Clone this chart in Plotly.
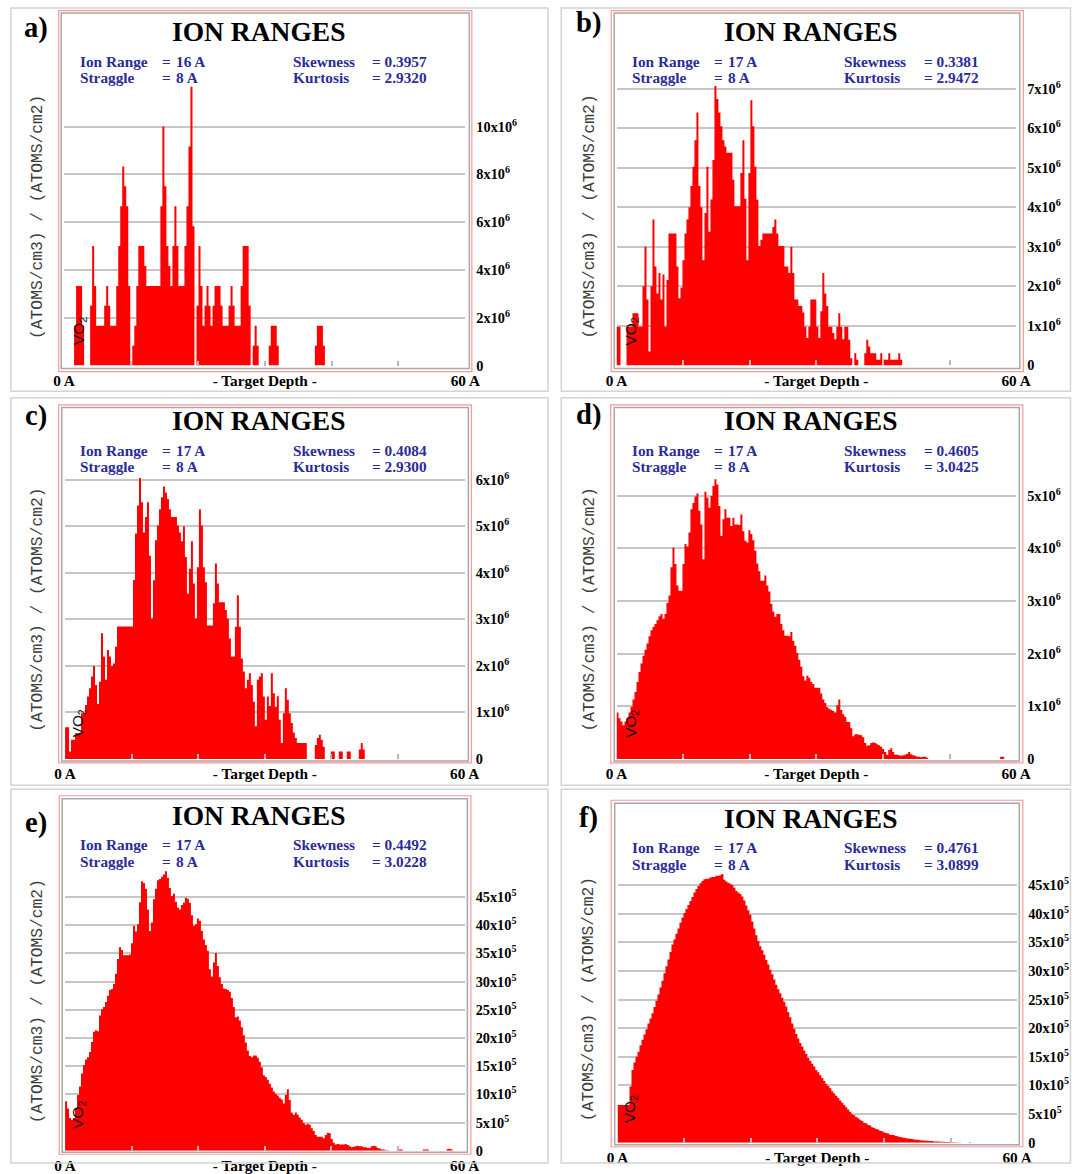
import plotly.graph_objects as go

W, H = 1086, 1174
STEP = 0.3  # depth bin width in Angstrom

# ---- range distributions, one value per 0.3 A depth bin ----
# a) values in 1e6 (atoms/cm3)/(atoms/cm2)
A_E6 = [
    0, 0, 0, 0, 0, 1.67, 3.33, 3.33, 3.33, 1.67,
    0, 0, 0, 2.50, 5.00, 3.33, 1.67, 1.67, 1.67, 1.67,
    2.50, 3.33, 2.50, 1.67, 1.67, 1.67, 3.33, 5.00, 6.67, 8.33,
    7.50, 6.67, 3.33, 0, 0.83, 1.67, 3.33, 5.00, 5.00, 5.00,
    4.17, 3.33, 3.33, 3.33, 3.33, 3.33, 3.33, 3.33, 6.67, 10.00,
    7.50, 5.00, 4.17, 3.33, 5.00, 6.67, 5.00, 3.33, 3.33, 3.33,
    5.00, 6.67, 9.17, 11.67, 5.83, 0, 2.50, 5.00, 3.33, 1.67,
    2.50, 3.33, 2.50, 1.67, 2.50, 3.33, 3.33, 3.33, 2.50, 1.67,
    1.67, 1.67, 2.50, 3.33, 2.50, 1.67, 1.67, 1.67, 3.33, 5.00,
    5.00, 5.00, 2.50, 0, 0.83, 1.67, 0.83, 0, 0, 0,
    0, 0, 0.83, 1.67, 1.67, 1.67, 0.83, 0, 0, 0,
    0, 0, 0, 0, 0, 0, 0, 0, 0, 0,
    0, 0, 0, 0, 0, 0.83, 1.67, 1.67, 1.67, 0.83,
]
# b) values in 1e6
B_E6 = [
    0.98, 0.98, 0, 0, 0, 0.98, 0.98, 0.98, 1.32, 1.32,
    1.32, 0.98, 0.98, 2.00, 3.00, 1.67, 0.35, 2.00, 3.69, 2.50,
    1.82, 2.34, 1.67, 2.30, 0.98, 2.16, 3.34, 3.34, 3.34, 3.34,
    2.50, 1.70, 1.97, 2.66, 3.34, 3.69, 4.00, 4.54, 5.03, 5.70,
    6.40, 4.54, 4.00, 2.66, 3.86, 5.03, 3.38, 4.20, 5.20, 7.07,
    6.74, 6.40, 6.05, 5.70, 5.54, 5.38, 5.38, 5.38, 4.70, 4.03,
    4.03, 4.03, 4.87, 5.70, 4.22, 2.66, 4.87, 6.71, 6.05, 5.03,
    4.19, 3.02, 3.18, 3.34, 3.34, 3.34, 3.34, 3.34, 3.50, 3.69,
    3.34, 3.02, 3.02, 3.02, 2.50, 2.50, 2.34, 3.00, 2.34, 1.67,
    1.67, 1.50, 1.50, 1.34, 0.98, 0.69, 0.98, 1.67, 1.67, 1.67,
    0.98, 0.69, 1.37, 2.34, 1.82, 1.50, 0.98, 0.98, 0.82, 0.66,
    0.98, 1.32, 0.98, 0.66, 0.98, 0.98, 0.65, 0.18, 0, 0.31,
    0.14, 0, 0, 0, 0.31, 0.65, 0.48, 0.31, 0.31, 0.31,
    0.14, 0.14, 0.31, 0.14, 0.14, 0.14, 0.31, 0.14, 0.14, 0.14,
    0.14, 0.31, 0.14,
]
# c) values in 1e6
C_E6 = [
    0.68, 0.68, 0.16, 0.41, 0.41, 0.55, 0.55, 0.55, 0.98, 0.98,
    1.16, 1.34, 1.52, 1.77, 2.00, 1.59, 1.18, 1.66, 2.70, 2.20,
    1.70, 2.34, 2.20, 2.00, 2.05, 2.41, 2.85, 2.85, 2.85, 2.85,
    2.85, 2.85, 2.85, 2.85, 3.85, 4.85, 5.45, 6.04, 5.52, 4.87,
    5.20, 5.52, 4.37, 3.02, 3.84, 4.70, 5.02, 5.37, 5.63, 5.86,
    5.73, 5.59, 5.37, 5.20, 5.20, 5.20, 5.02, 4.87, 4.68, 5.00,
    4.34, 3.55, 4.09, 4.68, 3.77, 3.02, 4.12, 5.37, 5.02, 4.12,
    3.80, 2.87, 2.87, 2.87, 3.35, 4.20, 3.77, 3.37, 3.37, 3.37,
    3.20, 3.02, 2.59, 2.20, 2.20, 2.84, 3.52, 2.84, 2.16, 1.88,
    1.52, 1.70, 1.84, 1.59, 1.23, 0.70, 1.70, 1.77, 1.84, 1.34,
    0.84, 1.34, 1.14, 1.84, 1.41, 1.12, 1.35, 0.84, 0.34, 0.98,
    1.52, 1.27, 0.98, 0.77, 0.57, 0.45, 0.34, 0.34, 0.34, 0.34,
    0.34, 0, 0, 0, 0, 0.30, 0.45, 0.52, 0.41, 0.26,
    0, 0, 0, 0.16, 0.16, 0, 0, 0.16, 0.16, 0,
    0, 0.16, 0.16, 0, 0, 0, 0, 0.20, 0.34, 0.20,
]
# d) values in 1e5
D_E5 = [
    8.8, 7.7, 7.1, 6.4, 7.1, 7.7, 8.8, 9.9, 11.3, 12.7,
    14.6, 16.5, 18.1, 19.6, 20.7, 21.9, 23.3, 24.4, 25.1, 25.6,
    26.3, 27.1, 27.5, 26.6, 27.5, 29.6, 31.0, 36.4, 40.1, 37.0,
    32.9, 31.9, 31.9, 37.0, 40.8, 40.3, 43.0, 47.4, 48.6, 49.8,
    50.4, 47.1, 44.5, 37.9, 50.7, 49.6, 47.7, 49.9, 51.8, 53.1,
    52.1, 48.0, 42.3, 45.5, 47.4, 45.8, 45.8, 44.2, 45.8, 44.5,
    44.5, 44.4, 46.4, 43.2, 41.4, 41.1, 43.4, 42.7, 41.5, 39.5,
    37.1, 35.6, 33.8, 33.8, 34.8, 32.9, 31.8, 29.4, 28.0, 27.0,
    27.5, 27.5, 25.6, 24.4, 23.4, 23.4, 23.3, 24.1, 22.4, 21.5,
    20.1, 18.8, 17.5, 15.7, 14.9, 15.8, 15.4, 14.6, 14.2, 13.5,
    13.5, 13.5, 12.4, 11.3, 10.6, 9.8, 9.5, 9.3, 9.1, 8.8,
    10.2, 11.3, 9.3, 8.5, 8.0, 7.0, 7.0, 5.8, 4.3, 4.7,
    4.7, 4.6, 4.5, 4.1, 3.0, 2.5, 2.6, 3.0, 3.1, 3.0,
    2.8, 2.6, 2.3, 1.9, 1.3, 0.8, 1.7, 2.0, 1.3, 0.8,
    0.8, 0.7, 0.6, 0.7, 0.8, 1.0, 1.3, 0.9, 0.7, 0.6,
    0.4, 0.4, 0.3, 0.4, 0.4, 0.2, 0, 0, 0, 0,
    0, 0, 0, 0, 0, 0, 0, 0, 0, 0,
    0, 0, 0, 0, 0, 0, 0, 0, 0, 0,
    0, 0, 0, 0, 0, 0, 0, 0, 0, 0,
    0, 0, 0.4, 0.4,
]
# e) values in 1e5
E_E5 = [
    8.8, 7.5, 5.8, 5.5, 5.8, 7.5, 9.9, 11.4, 13.7, 15.2,
    16.2, 16.6, 17.5, 19.3, 21.1, 21.4, 21.2, 24.0, 25.1, 25.5,
    26.4, 27.5, 28.5, 28.7, 29.6, 31.4, 34.0, 36.1, 35.6, 34.7,
    34.7, 34.7, 34.8, 36.8, 39.9, 38.9, 40.2, 44.1, 47.8, 47.5,
    46.5, 42.8, 39.0, 40.5, 44.6, 46.5, 48.0, 48.2, 48.6, 49.0,
    49.6, 48.4, 46.6, 45.2, 45.6, 44.2, 43.1, 42.8, 43.6, 44.0,
    44.9, 44.7, 44.0, 41.8, 39.9, 40.2, 41.2, 40.8, 39.0, 37.5,
    36.5, 35.5, 32.2, 30.9, 33.4, 35.1, 32.8, 30.8, 29.6, 28.8,
    28.7, 28.5, 28.2, 27.1, 25.5, 23.7, 23.8, 23.1, 21.9, 20.5,
    19.2, 17.8, 16.8, 16.6, 16.9, 16.9, 16.5, 15.8, 14.8, 13.4,
    13.1, 12.6, 11.9, 11.2, 10.5, 10.1, 9.8, 9.4, 9.1, 8.4,
    9.9, 10.9, 9.0, 6.8, 6.4, 6.8, 6.4, 5.9, 5.5, 4.9,
    4.6, 4.8, 4.6, 4.0, 3.5, 2.8, 2.5, 2.5, 2.5, 2.2,
    2.8, 3.2, 3.1, 2.1, 1.4, 1.1, 1.2, 1.1, 1.1, 1.1,
    1.2, 1.0, 0.8, 0.6, 0.7, 0.8, 0.9, 0.8, 0.8, 0.6,
    0.6, 0.5, 0.5, 0.8, 0.9, 0.8, 0.5, 0.4, 0.2, 0.2,
    0.1, 0.1, 0, 0, 0, 0, 0.2, 0.2, 0.2, 0,
    0, 0, 0, 0, 0, 0, 0, 0, 0, 0.2,
    0.2, 0.2, 0, 0, 0, 0, 0, 0, 0, 0,
    0, 0.3, 0.35, 0.2,
]
# f) values in 1e5
F_E5 = [
    6.6, 6.6, 6.6, 6.6, 6.6, 6.6, 9.8, 12.7, 14.0, 15.0,
    15.9, 17.0, 18.0, 18.9, 19.8, 20.8, 21.7, 22.6, 23.7, 24.8,
    25.9, 27.1, 28.3, 29.6, 30.8, 32.0, 33.3, 34.6, 35.5, 36.5,
    37.4, 38.4, 39.3, 40.1, 40.8, 41.5, 42.2, 42.9, 43.7, 44.3,
    44.8, 45.3, 45.7, 46.0, 46.1, 46.1, 46.3, 46.4, 46.4, 46.6,
    46.6, 46.7, 46.9, 45.9, 45.6, 45.4, 45.2, 45.0, 44.5, 44.0,
    43.7, 43.4, 43.0, 42.3, 41.4, 40.6, 39.8, 38.6, 37.4, 36.2,
    35.2, 34.3, 33.6, 32.8, 31.9, 31.1, 30.2, 29.4, 28.5, 27.6,
    26.8, 26.1, 25.3, 24.6, 23.8, 22.8, 21.9, 20.8, 19.9, 19.0,
    18.2, 17.4, 16.8, 16.1, 15.5, 14.8, 14.3, 13.8, 13.3, 12.7,
    12.3, 11.8, 11.3, 10.8, 10.3, 9.9, 9.5, 9.0, 8.6, 8.2,
    7.8, 7.4, 7.0, 6.6, 6.2, 5.8, 5.4, 5.0, 4.8, 4.5,
    4.3, 4.0, 3.8, 3.5, 3.4, 3.1, 3.0, 2.7, 2.6, 2.4,
    2.3, 2.1, 2.0, 1.8, 1.7, 1.6, 1.4, 1.4, 1.3, 1.2,
    1.1, 1.0, 0.93, 0.87, 0.81, 0.75, 0.70, 0.64, 0.58, 0.52,
    0.52, 0.46, 0.41, 0.41, 0.35, 0.35, 0.29, 0.29, 0.23, 0.23,
    0.23, 0.17, 0.17, 0.17, 0.15, 0.12, 0.12, 0.10, 0.10, 0.06,
    0.06, 0.05, 0, 0, 0, 0, 0.10,
]

SERIES = [(A_E6, 1e6), (B_E6, 1e6), (C_E6, 1e6), (D_E5, 1e5), (E_E5, 1e5), (F_E5, 1e5)]

LETTERS = ["a)", "b)", "c)", "d)", "e)", "f)"]
ION_RANGE = ["16 A", "17 A", "17 A", "17 A", "17 A", "17 A"]
STRAGGLE = ["8 A", "8 A", "8 A", "8 A", "8 A", "8 A"]
SKEWNESS = ["0.3957", "0.3381", "0.4084", "0.4605", "0.4492", "0.4761"]
KURTOSIS = ["2.9320", "2.9472", "2.9300", "3.0425", "3.0228", "3.0899"]

# right-hand axis ticks: (mantissas, exponent)
Y_TICKS = [
    ([0, 2, 4, 6, 8, 10], 6),
    ([0, 1, 2, 3, 4, 5, 6, 7], 6),
    ([0, 1, 2, 3, 4, 5, 6], 6),
    ([0, 1, 2, 3, 4, 5], 6),
    ([0, 5, 10, 15, 20, 25, 30, 35, 40, 45], 5),
    ([0, 5, 10, 15, 20, 25, 30, 35, 40, 45], 5),
]
Y_MAX = [11.73e6, 7.09e6, 6.05e6, 5.34e6, 5.0e6, 4.71e6]

# ---- layout grid (pixels) ----
PLOT_BOX = [  # x at 0 A, x at 60 A, baseline y, top y
    (63.3, 465.0, 367.5, 86.0),
    (616.3, 1016.3, 367.3, 86.0),
    (64.3, 464.3, 762.5, 480.0),
    (616.3, 1016.3, 762.5, 480.0),
    (64.3, 464.3, 1156.0, 873.0),
    (617.3, 1017.3, 1148.0, 877.0),
]
RED_BOX = [
    (58.0, 11.0, 471.5, 373.5),
    (611.0, 11.0, 1023.5, 373.5),
    (58.0, 407.0, 471.0, 766.5),
    (610.5, 407.0, 1023.0, 766.5),
    (58.5, 799.5, 470.5, 1159.5),
    (611.0, 804.0, 1023.0, 1152.0),
]
GRAY_BOX = [
    (60.5, 13.5, 469.0, 370.5),
    (614.0, 13.5, 1020.0, 370.5),
    (61.0, 409.5, 468.0, 764.5),
    (614.0, 409.5, 1019.5, 764.5),
    (61.5, 802.5, 467.0, 1157.5),
    (614.5, 807.0, 1019.5, 1150.0),
]
CELL_BOX = [
    (9.7, 4.2, 547.7, 393.3),
    (561.0, 4.2, 1080.0, 393.3),
    (9.7, 399.8, 547.7, 788.9),
    (561.0, 399.8, 1080.0, 788.9),
    (9.7, 793.0, 547.7, 1185.0),
    (561.0, 793.0, 1080.0, 1185.0),
]
TEXT_SHIFT = [(0, 0), (552.3, 0), (0, 391), (552.3, 391), (0, 787), (552.3, 790)]
LETTER_POS = [(35, 28), (588, 23), (35, 418), (588, 417), (35, 827), (588, 822)]
VO2_POS = [(78, 333), (631, 333), (78, 727), (631, 727), (78, 1120), (631, 1114)]

# grid pixels -> figure pixels
GX0, GXS = 10.2, 0.977
GY0, GYS = 8.4, 0.988
FS = 1.02  # font scale for the grid transform

SERIF = "Liberation Serif"
NAVY = "#2c2c96"
RED = "#ff0000"


def fx(px):
    return min(max((px - GX0) / GXS / W, 0.0), 0.9995)


def fy(py):
    return min(max(1 - (py - GY0) / GYS / H, 0.0), 1.0)


fig = go.Figure()
shapes = []
annotations = []


def label(x, y, text, size, color="black", family=SERIF, bold=True,
          xanchor="left", angle=0):
    annotations.append(dict(
        x=fx(x), y=fy(y), xref="paper", yref="paper", text=text,
        showarrow=False, xanchor=xanchor, yanchor="middle", textangle=angle,
        font=dict(family=family, size=round(size * FS, 1), color=color,
                  weight="bold" if bold else "normal"),
    ))


def rect(box, color, width):
    x0, y0, x1, y1 = box
    shapes.append(dict(type="rect", xref="paper", yref="paper",
                       x0=fx(x0), y0=fy(y1), x1=fx(x1), y1=fy(y0),
                       line=dict(color=color, width=width),
                       fillcolor="rgba(0,0,0,0)", layer="above"))


for k in range(6):
    values, unit = SERIES[k]
    n = len(values)
    xs = [i * STEP for i in range(n + 1)]
    ys = [v * unit for v in values] + [values[-1] * unit]
    suffix = "" if k == 0 else str(k + 1)
    fig.add_trace(go.Scatter(
        x=xs, y=ys, mode="lines", line=dict(shape="hv", width=0, color=RED),
        fill="tozeroy", fillcolor=RED, xaxis="x" + suffix, yaxis="y" + suffix,
        hoverinfo="skip", showlegend=False,
    ))

    px0, px1, base, top = PLOT_BOX[k]
    mant, exp = Y_TICKS[k]
    tickvals = [m * 10 ** exp for m in mant]
    ticktext = ["0" if m == 0 else f"{m}x10<sup>{exp}</sup>" for m in mant]

    fig.layout["xaxis" + suffix] = dict(
        domain=[fx(px0), fx(px1)], range=[0, 60], anchor="y" + suffix,
        tickmode="array", tickvals=[0, 30, 60],
        ticktext=["0 A", "- Target Depth -", "60 A"], ticks="",
        ticklabelstandoff=4,
        tickfont=dict(family=SERIF, size=15.3, color="black", weight="bold"),
        minor=dict(tickmode="array", tickvals=[10, 20, 30, 40, 50],
                   ticks="inside", ticklen=5, tickwidth=1.5,
                   tickcolor="#b9b9b9", showgrid=False),
        showgrid=False, zeroline=False, showline=False, fixedrange=True,
    )
    fig.layout["yaxis" + suffix] = dict(
        domain=[fy(base), fy(top)], range=[0, Y_MAX[k]], anchor="x" + suffix,
        side="right", tickmode="array", tickvals=tickvals, ticktext=ticktext,
        ticks="", ticklabelstandoff=10,
        tickfont=dict(family=SERIF, size=14.3, color="black", weight="bold"),
        showgrid=True, gridcolor="#c6c6c6", gridwidth=1.5,
        zeroline=False, showline=False, fixedrange=True,
    )

    rect(CELL_BOX[k], "#d4d4d4", 1.5)
    rect(RED_BOX[k], "#f59a9a", 1.2)
    rect(GRAY_BOX[k], "#a8a8a8", 1.5)

    dx, dy = TEXT_SHIFT[k]
    label(258.4 + dx, 32 + dy, "ION RANGES", 27, xanchor="center")
    rows = [("Ion Range", ION_RANGE[k], "Skewness", SKEWNESS[k], 61.9),
            ("Straggle", STRAGGLE[k], "Kurtosis", KURTOSIS[k], 78.2)]
    for name1, val1, name2, val2, yy in rows:
        label(77.2 + dx, yy + dy, name1, 15, NAVY)
        label(159.5 + dx, yy + dy, "=", 15, NAVY)
        label(173.8 + dx, yy + dy, val1, 15, NAVY)
        label(290.2 + dx, yy + dy, name2, 15, NAVY)
        label(369.5 + dx, yy + dy, "= " + val2, 15, NAVY)

    lx, ly = LETTER_POS[k]
    label(lx, ly, LETTERS[k], 28, xanchor="center")

    label(36.7 + dx, (base + top) / 2 - 9, "(ATOMS/cm3) / (ATOMS/cm2)", 16,
          "#3c3c3c", family="Liberation Mono", bold=False, xanchor="center",
          angle=-90)
    vx, vy = VO2_POS[k]
    label(vx, vy, "VO<sub>2</sub>", 15, "#111111", family="Liberation Sans",
          bold=False, xanchor="center", angle=-90)

fig.update_layout(
    width=W, height=H, margin=dict(l=0, r=0, t=0, b=0),
    paper_bgcolor="white", plot_bgcolor="white",
    shapes=shapes, annotations=annotations, showlegend=False,
)

fig.write_html("out.html")
